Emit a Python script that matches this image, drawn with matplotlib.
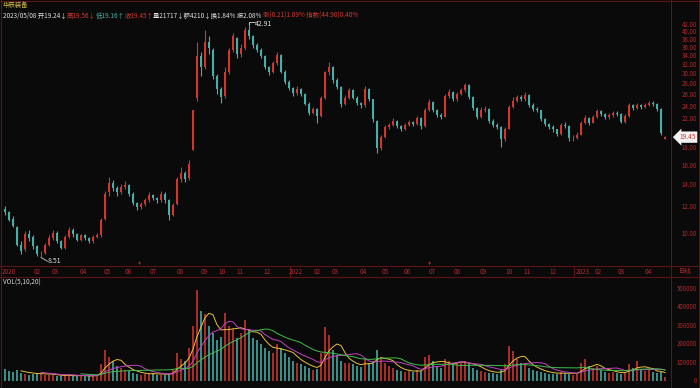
import matplotlib
matplotlib.use("Agg")
import matplotlib.pyplot as plt
import matplotlib.transforms as mtransforms
from matplotlib.lines import Line2D
import pandas as pd

plt.rcParams['font.family'] = ['Noto Sans CJK SC', 'DejaVu Sans']

# candles (each bar ~ a few trading days)
opens = [11.9, 11.6, 11.1, 10.5, 9.3, 9.0, 10.0, 9.8, 9.2, 8.7,
         8.8, 9.3, 9.7, 10.1, 9.5, 9.1, 9.8, 10.3, 10.0, 9.6,
         9.9, 9.7, 9.5, 9.8, 9.9, 11.1, 13.3, 14.2, 13.7, 13.3,
         13.8, 14.0, 13.2, 12.4, 12.0, 12.3, 12.6, 13.1, 12.8, 12.6,
         13.2, 12.6, 11.4, 12.3, 14.6, 15.2, 14.7, 17.8, 25.5, 34.0,
         31.5, 37.5, 35.5, 29.5, 27.0, 25.8, 30.5, 35.5, 38.5, 34.5,
         35.8, 40.5, 39.0, 36.5, 35.5, 34.0, 31.5, 30.5, 32.3, 34.2,
         30.5, 28.5, 27.2, 26.3, 27.0, 26.2, 24.5, 23.0, 23.6, 22.5,
         25.5, 30.5, 31.5, 28.8, 27.5, 24.5, 25.5, 26.8, 25.5, 24.6,
         24.2, 27.0, 25.2, 21.8, 18.0, 19.5, 20.8, 21.2, 21.8, 21.0,
         20.6, 21.2, 21.6, 21.3, 22.2, 21.0, 23.5, 24.8, 23.4, 22.6,
         22.4, 25.8, 26.5, 25.2, 26.2, 26.8, 27.8, 25.6, 23.8, 22.4,
         23.5, 23.6, 21.8, 21.2, 20.9, 19.2, 20.6, 24.0, 25.0, 25.6,
         25.2, 26.0, 24.3, 23.6, 23.4, 22.0, 21.3, 20.9, 20.5, 19.9,
         21.2, 21.0, 19.3, 19.4, 19.8, 21.5, 22.2, 21.5, 22.4, 23.2,
         22.8, 22.3, 22.6, 23.0, 22.8, 21.6, 22.5, 24.3, 23.8, 24.2,
         23.9, 24.3, 24.6, 24.4, 23.6, 19.24]
closes = [11.6, 11.0, 10.6, 9.3, 8.9, 10.0, 9.7, 9.2, 8.7, 8.7,
          9.3, 9.7, 10.1, 9.5, 9.1, 9.8, 10.3, 10.0, 9.6, 9.9,
          9.7, 9.5, 9.8, 9.9, 11.0, 13.2, 14.2, 13.7, 13.3, 13.8,
          14.0, 13.2, 12.4, 12.0, 12.3, 12.6, 13.1, 12.8, 12.6, 13.2,
          12.6, 11.4, 12.2, 14.6, 15.2, 14.6, 16.2, 23.5, 34.0, 31.5,
          37.5, 36.0, 29.5, 27.0, 25.6, 30.5, 35.5, 39.0, 34.5, 35.8,
          40.5, 39.0, 36.5, 35.5, 34.0, 31.5, 30.5, 32.3, 34.2, 30.5,
          28.5, 27.2, 26.3, 27.0, 26.2, 24.5, 23.0, 23.6, 22.5, 25.5,
          30.5, 31.5, 28.8, 27.5, 24.5, 25.5, 26.8, 25.5, 24.6, 24.2,
          27.0, 25.2, 22.0, 18.0, 19.5, 20.8, 21.2, 21.8, 21.0, 20.6,
          21.2, 21.6, 21.3, 22.2, 21.0, 23.5, 24.8, 23.4, 22.6, 22.4,
          25.8, 26.5, 25.2, 26.2, 26.8, 27.8, 25.6, 23.8, 22.4, 23.5,
          23.6, 21.8, 21.2, 20.9, 19.2, 20.5, 24.0, 25.0, 25.6, 25.2,
          26.0, 24.3, 23.6, 23.4, 22.0, 21.3, 20.9, 20.5, 19.9, 21.2,
          21.0, 19.3, 19.4, 19.8, 21.5, 22.2, 21.5, 22.4, 23.2, 22.8,
          22.3, 22.6, 23.0, 22.8, 21.6, 22.5, 24.3, 23.8, 24.2, 23.9,
          24.3, 24.6, 24.4, 23.6, 20.0, 19.45]
highs = [12.1, 11.7, 11.3, 10.6, 9.5, 10.2, 10.3, 9.9, 9.3, 8.9,
         9.4, 9.9, 10.3, 10.2, 9.6, 9.9, 10.5, 10.4, 10.1, 10.0,
         10.0, 9.8, 9.9, 10.1, 11.2, 13.4, 14.8, 14.5, 13.9, 14.1,
         14.4, 14.1, 13.3, 12.5, 12.5, 12.8, 13.3, 13.2, 12.9, 13.4,
         13.3, 12.7, 12.4, 14.8, 15.8, 15.4, 16.6, 23.5, 37.5, 35.0,
         40.6, 39.0, 36.0, 30.0, 27.5, 31.5, 36.0, 39.8, 38.8, 37.0,
         41.5, 42.91, 39.2, 37.2, 35.8, 34.2, 31.8, 32.8, 34.8, 34.4,
         30.8, 28.8, 27.5, 27.6, 27.2, 26.4, 24.7, 24.0, 23.8, 25.8,
         30.6, 32.5, 31.8, 29.2, 27.6, 26.0, 27.2, 27.0, 25.8, 24.8,
         27.6, 27.2, 25.3, 21.9, 19.8, 21.1, 21.5, 22.2, 21.9, 21.2,
         21.5, 21.9, 21.8, 22.5, 22.3, 23.8, 25.3, 25.0, 23.6, 22.9,
         26.2, 27.0, 26.7, 26.6, 27.3, 28.3, 28.0, 25.8, 24.0, 23.9,
         24.1, 23.7, 22.0, 21.4, 21.0, 20.8, 24.3, 25.6, 26.0, 25.9,
         26.6, 26.1, 24.6, 23.9, 23.5, 22.2, 21.5, 21.1, 20.6, 21.5,
         21.6, 21.1, 19.7, 20.1, 21.8, 22.6, 22.3, 22.7, 23.6, 23.4,
         23.0, 22.9, 23.3, 23.2, 22.9, 22.8, 24.6, 24.5, 24.6, 24.4,
         24.6, 25.0, 24.9, 24.6, 23.7, 19.56]
lows = [11.4, 10.9, 10.5, 9.2, 8.7, 8.9, 9.5, 9.0, 8.6, 8.51,
        8.7, 9.2, 9.6, 9.4, 9.0, 9.0, 9.7, 9.8, 9.5, 9.5,
        9.6, 9.4, 9.4, 9.7, 9.8, 11.0, 13.0, 13.4, 13.0, 13.2,
        13.6, 13.0, 12.2, 11.8, 11.9, 12.1, 12.5, 12.6, 12.4, 12.5,
        12.4, 11.0, 11.3, 12.2, 14.3, 14.3, 14.5, 17.8, 25.0, 29.5,
        31.0, 34.5, 29.0, 26.2, 24.6, 25.5, 30.0, 34.8, 33.5, 33.8,
        35.5, 38.2, 36.0, 35.0, 33.4, 31.0, 29.8, 30.2, 32.0, 30.2,
        28.0, 26.8, 25.8, 26.0, 25.8, 24.2, 22.7, 22.8, 21.4, 22.3,
        25.3, 29.8, 28.3, 27.0, 24.0, 24.2, 25.3, 25.2, 24.3, 23.8,
        24.0, 24.9, 21.6, 17.4, 17.8, 19.3, 20.5, 21.0, 20.7, 20.3,
        20.4, 21.0, 21.0, 21.1, 20.6, 20.9, 23.2, 23.1, 22.3, 22.0,
        22.3, 25.4, 24.9, 25.0, 25.9, 26.5, 25.3, 23.5, 22.1, 22.2,
        23.1, 21.5, 20.9, 20.6, 18.2, 19.0, 20.5, 23.7, 24.8, 24.9,
        25.0, 24.0, 23.3, 23.1, 21.7, 21.0, 20.6, 20.2, 19.6, 19.8,
        20.7, 19.0, 19.0, 19.2, 19.7, 21.3, 21.2, 21.4, 22.2, 22.5,
        22.0, 22.1, 22.4, 22.5, 21.4, 21.5, 22.4, 23.5, 23.6, 23.6,
        23.8, 24.1, 24.1, 23.3, 19.8, 19.16]
volumes = [65000, 55000, 50000, 60000, 45000, 40000, 35000, 38000, 45000, 40000,
           35000, 30000, 38000, 28000, 25000, 30000, 35000, 28000, 25000, 30000,
           28000, 26000, 30000, 35000, 90000, 170000, 130000, 110000, 80000, 70000,
           60000, 55000, 45000, 40000, 35000, 38000, 40000, 45000, 35000, 30000,
           35000, 40000, 60000, 150000, 120000, 110000, 180000, 300000, 490000, 380000,
           360000, 300000, 260000, 220000, 240000, 370000, 300000, 280000, 230000, 260000,
           330000, 280000, 230000, 220000, 200000, 180000, 160000, 150000, 200000, 180000,
           150000, 130000, 110000, 100000, 90000, 80000, 70000, 60000, 65000, 150000,
           290000, 250000, 170000, 140000, 110000, 95000, 100000, 90000, 80000, 75000,
           120000, 100000, 110000, 170000, 130000, 100000, 80000, 70000, 60000, 55000,
           50000, 55000, 50000, 60000, 55000, 130000, 140000, 110000, 80000, 70000,
           120000, 110000, 90000, 95000, 100000, 110000, 90000, 70000, 60000, 55000,
           50000, 45000, 45000, 40000, 60000, 90000, 190000, 160000, 120000, 100000,
           90000, 70000, 60000, 55000, 50000, 45000, 40000, 38000, 40000, 50000,
           45000, 40000, 35000, 38000, 100000, 120000, 80000, 70000, 80000, 60000,
           50000, 45000, 50000, 45000, 40000, 45000, 90000, 70000, 110000, 60000,
           55000, 60000, 50000, 45000, 50000, 21717]

month_labels = ["2020", "02", "03", "04", "05", "06", "07", "08", "09", "10", "11", "12",
                "2022", "02", "03", "04", "05", "06", "07", "08", "09", "10", "11", "12",
                "2023", "02", "03", "04"]
month_pos = [1.0, 8.0, 12.5, 19.5, 25.5, 30.75, 37.0, 43.75, 49.75, 54.25, 58.75, 65.5,
             72.75, 78.0, 82.5, 89.5, 95.0, 100.5, 106.75, 113.0, 119.5, 126.0, 130.5, 137.0,
             144.5, 148.25, 154.0, 160.75]
year_breaks = [71.3, 142.3]
event_marks = [33.5, 106.0]   # small red markers just above the date row
price_ticks = [10, 12, 14, 16, 18, 22, 24, 26, 28, 30, 32, 34, 36, 38, 40, 42]
vol_ticks = [0, 100000, 200000, 300000, 400000, 500000]

bg = "#0a0a0a"
up = "#d2372f"
down = "#45b0a8"
axis_red = "#b3282a"
border = "#5c1414"

fig = plt.figure(figsize=(7, 3.88), dpi=100, facecolor=bg)


def fx(px):
    return px / 700.0


def fy(py):
    return 1 - py / 388.0


ax = fig.add_axes([fx(2), fy(266), fx(671) - fx(2), fy(3) - fy(266)])
ax.set_facecolor(bg)
ax.set_yscale("log")
ax.set_ylim(8.027, 48.87)
ax.set_xlim(-0.75, 166.5)
ax.axis("off")

vax = fig.add_axes([fx(2), fy(381), fx(671) - fx(2), fy(278) - fy(381)])
vax.set_facecolor(bg)
vax.set_ylim(0, 556757)
vax.set_xlim(-0.75, 166.5)
vax.axis("off")

xs = list(range(len(closes)))
cols = [up if c >= o else down for o, c in zip(opens, closes)]

ax.vlines(xs, lows, highs, colors=cols, linewidth=0.8)
bottoms = [min(o, c) for o, c in zip(opens, closes)]
heights = [max(abs(c - o), 0.04) for o, c in zip(opens, closes)]
ax.bar(xs, heights, bottom=bottoms, width=0.55, color=cols, linewidth=0)

vax.bar(xs, volumes, width=0.7, color=cols, alpha=0.8, linewidth=0)
vs = pd.Series(volumes)
vax.plot(xs, vs.rolling(5).mean(), color="#e6c13a", linewidth=0.7)
vax.plot(xs, vs.rolling(10).mean(), color="#c43fc4", linewidth=0.7)
vax.plot(xs, vs.rolling(20).mean(), color="#3fbf4a", linewidth=0.7)

# highest / lowest marks
hi = highs.index(max(highs))
lo = lows.index(min(lows))
ax.plot([hi, hi, hi + 1.4], [highs[hi] * 0.985, highs[hi], highs[hi]], color="#cccccc", linewidth=0.6)
ax.text(hi + 1.5, highs[hi] * 0.985, "%.2f" % highs[hi], color="#e0e0e0", fontsize=5, va="center")
ax.plot([lo, lo + 1.6], [lows[lo], lows[lo] * 0.975], color="#cccccc", linewidth=0.6)
ax.text(lo + 1.7, lows[lo] * 0.975, "%.2f" % lows[lo], color="#e0e0e0", fontsize=5, va="center")


# frame lines
def fline(x0, y0, x1, y1, c=border, lw=0.8):
    fig.add_artist(Line2D([fx(x0), fx(x1)], [fy(y0), fy(y1)], color=c, linewidth=lw,
                          transform=fig.transFigure))


fline(0, 1, 700, 1)
fline(1, 0, 1, 388)
fline(671, 0, 671, 388)
fline(0, 266, 700, 266)
fline(0, 277, 700, 277)
fline(699, 0, 699, 388)

# price labels on the right
pt = mtransforms.blended_transform_factory(fig.transFigure, ax.transData)
for p in price_ticks:
    fig.text(fx(697), p, "%.2f" % p, transform=pt, color=axis_red, fontsize=4.4,
             ha="right", va="center")

vt = mtransforms.blended_transform_factory(fig.transFigure, vax.transData)
for v in vol_ticks:
    fig.text(fx(697), v, str(v), transform=vt, color=axis_red, fontsize=4.4,
             ha="right", va="center")

# last price tag
fig.text(fx(679), closes[-1], "%.2f" % closes[-1], transform=pt, color=up, fontsize=4.8,
         ha="left", va="center",
         bbox=dict(boxstyle="larrow,pad=0.25", fc="#f2f2f2", ec="none"))

# date row
dt = mtransforms.blended_transform_factory(ax.transData, fig.transFigure)
for lab, pos in zip(month_labels, month_pos):
    fig.text(pos, fy(271.5), lab, transform=dt, color=axis_red, fontsize=4.6,
             ha="center", va="center")
for b in year_breaks:
    fig.add_artist(Line2D([b, b], [fy(266), fy(277)], color=border, linewidth=0.8, transform=dt))
for m in event_marks:
    fig.text(m, fy(262.5), "‡", transform=dt, color=up, fontsize=4, ha="center", va="center")
fig.text(fx(685), fy(271.5), "日线", color=axis_red, fontsize=4.6, ha="center", va="center")

fig.text(fx(3), fy(282.5), "VOL(5,10,20)", color="#d8d8d8", fontsize=4.6, ha="left", va="center")

# title + info line
fig.text(fx(3), fy(5.5), "华辰装备", color="#d6c04a", fontsize=4.6, ha="left", va="center")

segs = [("2023/05/08 开19.24↓", "#e0e0e0"), ("高19.56↓", up), ("低19.16↑", down),
        ("收19.45↑", up), ("量21717↓额4210↓换1.84% 振2.08% ", "#e0e0e0"),
        ("涨(0.21)1.09% 指数(44.90)0.40%", up)]
renderer = fig.canvas.get_renderer()
xpos = fx(3)
for s, c in segs:
    t = fig.text(xpos, fy(16), s, color=c, fontsize=4.6, ha="left", va="center")
    bb = t.get_window_extent(renderer)
    xpos = bb.x1 / fig.bbox.width

fig.savefig("out.png", dpi=100, facecolor=bg)
